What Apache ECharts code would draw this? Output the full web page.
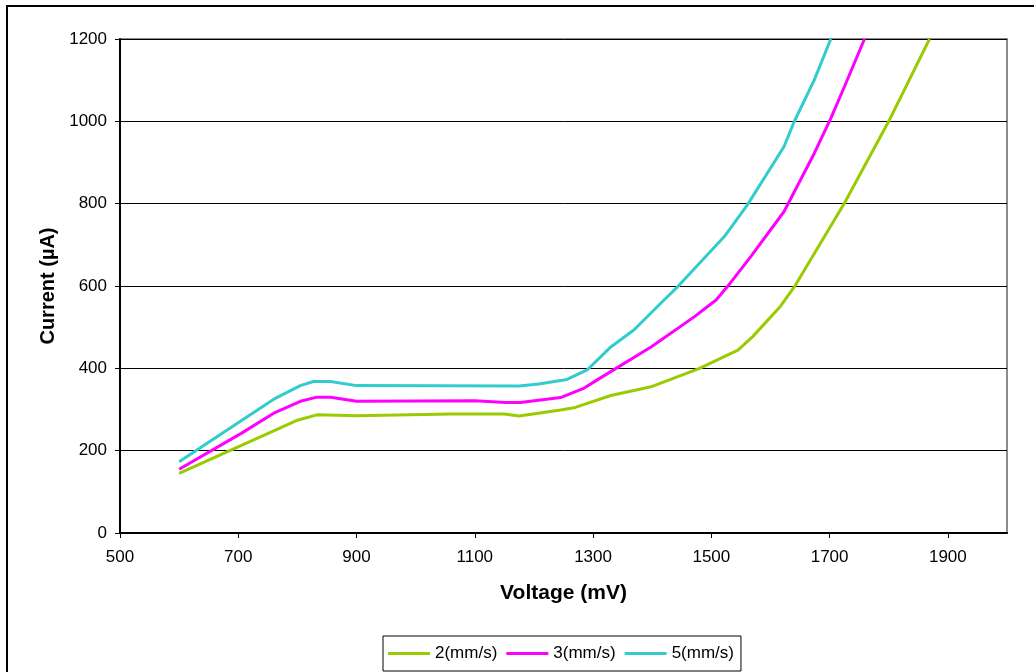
<!DOCTYPE html>
<html>
<head>
<meta charset="utf-8">
<script src="https://cdn.jsdelivr.net/npm/echarts@6/dist/echarts.min.js"></script>
<style>
  html, body { margin: 0; padding: 0; background: #fff; }
  #chart { width: 1034px; height: 672px; }
</style>
</head>
<body>
<div id="chart"></div>
<script>
// Current vs. voltage at three scan speeds: [voltage mV, current µA]
const speed2 = [
  [600, 145], [760, 248], [800, 274], [833, 287], [900, 285], [1060, 289],
  [1150, 289], [1175, 284], [1245, 299], [1270, 305], [1330, 334], [1400, 356],
  [1480, 400], [1545, 444], [1570, 477], [1617, 551], [1640, 597], [1725, 801],
  [1800, 1000], [1869, 1200]
];
const speed3 = [
  [600, 155], [705, 242], [760, 291], [805, 320], [833, 330], [856, 330],
  [900, 320], [1100, 321], [1152, 317], [1177, 317], [1245, 329], [1285, 352],
  [1307, 372], [1398, 452], [1471, 525], [1508, 566], [1527, 598], [1567, 672],
  [1623, 781], [1674, 922], [1702, 1007], [1725, 1084], [1759, 1200]
];
const speed5 = [
  [600, 173], [760, 325], [805, 358], [827, 368], [856, 368], [900, 358],
  [1175, 357], [1208, 362], [1256, 373], [1290, 396], [1330, 452], [1369, 493],
  [1420, 566], [1443, 598], [1522, 720], [1561, 797], [1623, 939], [1640, 999],
  [1674, 1100], [1702, 1200]
];
const seriesNames = ['2(mm/s)', '3(mm/s)', '5(mm/s)'];
const xTickValues = [500, 700, 900, 1100, 1300, 1500, 1700, 1900];

const FONT = "'Liberation Sans', Arial, sans-serif";
const chart = echarts.init(document.getElementById('chart'), null, { renderer: 'canvas' });

// plain integers, no thousands separator
const plain = v => String(Math.round(v));

function lineSeries(name, data, color) {
  return {
    name, type: 'line', data,
    showSymbol: false, symbol: 'none', smooth: false,
    lineStyle: { color, width: 3 },
    itemStyle: { color },
    emphasis: { disabled: true },
    z: 3
  };
}

chart.setOption({
  animation: false,
  backgroundColor: '#fff',
  textStyle: { fontFamily: FONT },
  graphic: [{
    type: 'rect', silent: true, z: 0,
    shape: { x: 7, y: 6, width: 1100, height: 700 },
    style: { fill: 'none', stroke: '#000', lineWidth: 2 }
  }],
  grid: {
    left: 120, right: 27, top: 39, bottom: 139,
    show: true, borderColor: '#8c8c8c', borderWidth: 2, backgroundColor: 'transparent'
  },
  legend: {
    data: seriesNames,
    left: 383, top: 636,
    orient: 'horizontal',
    icon: 'rect',
    padding: [8, 7, 8, 5],
    itemGap: 9,
    itemWidth: 42, itemHeight: 3,
    borderColor: '#000', borderWidth: 1,
    textStyle: { fontFamily: FONT, fontSize: 17, color: '#000', lineHeight: 19 }
  },
  xAxis: {
    type: 'value', min: 500, max: 2000,
    name: 'Voltage (mV)', nameLocation: 'middle', nameGap: 50,
    nameTextStyle: { fontFamily: FONT, fontSize: 21, fontWeight: 'bold', color: '#000' },
    axisLine: { show: true, lineStyle: { color: '#000', width: 2 } },
    axisTick: { show: true, inside: false, length: 5, customValues: xTickValues, lineStyle: { color: '#000' } },
    axisLabel: { customValues: xTickValues, formatter: plain, margin: 16, fontFamily: FONT, fontSize: 17, color: '#000' },
    splitLine: { show: false }
  },
  yAxis: {
    type: 'value', min: 0, max: 1200, interval: 200,
    name: 'Current (µA)', nameLocation: 'middle', nameGap: 61,
    nameTextStyle: { fontFamily: FONT, fontSize: 20, fontWeight: 'bold', color: '#000' },
    axisLine: { show: true, lineStyle: { color: '#000', width: 2 } },
    axisTick: { show: true, inside: false, length: 5, lineStyle: { color: '#000' } },
    axisLabel: { formatter: plain, margin: 13, fontFamily: FONT, fontSize: 17, color: '#000' },
    splitLine: { show: true, lineStyle: { color: '#000', width: 1 } }
  },
  series: [
    lineSeries(seriesNames[0], speed2, '#99CC00'),
    lineSeries(seriesNames[1], speed3, '#FF00FF'),
    lineSeries(seriesNames[2], speed5, '#33CCCC')
  ]
});
</script>
</body>
</html>
